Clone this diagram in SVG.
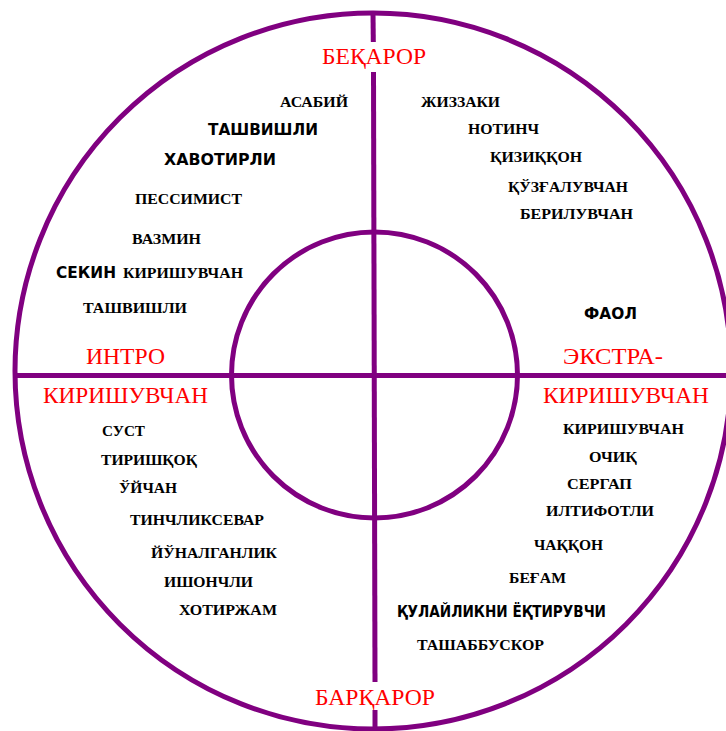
<svg xmlns="http://www.w3.org/2000/svg" width="726" height="731" viewBox="0 0 726 731">
<style>
.ln{stroke:#800080;stroke-width:5;fill:none}
.red{font-family:"Liberation Serif","Times New Roman",serif;font-size:24px;fill:#ff0000}
.sb{font-family:"Liberation Serif","Times New Roman",serif;font-size:15px;font-weight:bold;fill:#000}
.ss{font-family:"DejaVu Sans","Liberation Sans",sans-serif;font-size:15.5px;font-weight:bold;fill:#000}
</style>
<rect width="726" height="731" fill="#fff"/>
<g id="connectors">
<circle class="ln" cx="373" cy="371" r="358"/>
<circle class="ln" cx="374.5" cy="375" r="143"/>
<line class="ln" x1="373" y1="13" x2="373.3" y2="42"/>
<line class="ln" x1="373.5" y1="72" x2="375" y2="682"/>
<line class="ln" x1="375" y1="710" x2="375" y2="730"/>
<line class="ln" x1="14" y1="375.5" x2="726" y2="375.5"/>
</g>
<g id="labels-axes">
<text class="red" x="322" y="64" textLength="104" lengthAdjust="spacingAndGlyphs">БЕҚАРОР</text>
<text class="red" x="86" y="364" textLength="79" lengthAdjust="spacingAndGlyphs">ИНТРО</text>
<text class="red" x="43" y="403" textLength="165" lengthAdjust="spacingAndGlyphs">КИРИШУВЧАН</text>
<text class="red" x="563" y="364" textLength="100" lengthAdjust="spacingAndGlyphs">ЭКСТРА-</text>
<text class="red" x="543" y="403" textLength="166" lengthAdjust="spacingAndGlyphs">КИРИШУВЧАН</text>
<text class="red" x="315" y="705" textLength="120" lengthAdjust="spacingAndGlyphs">БАРҚАРОР</text>
</g>
<g id="quadrant-top-left">
<text class="sb" x="280" y="107" textLength="68" lengthAdjust="spacingAndGlyphs">АСАБИЙ</text>
<text class="ss" x="208" y="135" textLength="110" lengthAdjust="spacingAndGlyphs">ТАШВИШЛИ</text>
<text class="ss" x="164" y="165" textLength="112" lengthAdjust="spacingAndGlyphs">ХАВОТИРЛИ</text>
<text class="sb" x="135" y="204" textLength="107" lengthAdjust="spacingAndGlyphs">ПЕССИМИСТ</text>
<text class="sb" x="132" y="244" textLength="69" lengthAdjust="spacingAndGlyphs">ВАЗМИН</text>
<text class="ss" x="56" y="278" textLength="60" lengthAdjust="spacingAndGlyphs">СЕКИН</text>
<text class="sb" x="123" y="278" textLength="120" lengthAdjust="spacingAndGlyphs">КИРИШУВЧАН</text>
<text class="sb" x="83" y="313" textLength="104" lengthAdjust="spacingAndGlyphs">ТАШВИШЛИ</text>
</g>
<g id="quadrant-top-right">
<text class="sb" x="421" y="107" textLength="79" lengthAdjust="spacingAndGlyphs">ЖИЗЗАКИ</text>
<text class="sb" x="468" y="134" textLength="71" lengthAdjust="spacingAndGlyphs">НОТИНЧ</text>
<text class="sb" x="490" y="162" textLength="92" lengthAdjust="spacingAndGlyphs">ҚИЗИҚҚОН</text>
<text class="sb" x="508" y="192" textLength="120" lengthAdjust="spacingAndGlyphs">ҚЎЗҒАЛУВЧАН</text>
<text class="sb" x="520" y="219" textLength="113" lengthAdjust="spacingAndGlyphs">БЕРИЛУВЧАН</text>
<text class="ss" x="584" y="319" textLength="53" lengthAdjust="spacingAndGlyphs">ФАОЛ</text>
</g>
<g id="quadrant-bottom-left">
<text class="sb" x="102" y="436" textLength="43" lengthAdjust="spacingAndGlyphs">СУСТ</text>
<text class="sb" x="101" y="465" textLength="96" lengthAdjust="spacingAndGlyphs">ТИРИШҚОҚ</text>
<text class="sb" x="119" y="493" textLength="58" lengthAdjust="spacingAndGlyphs">ЎЙЧАН</text>
<text class="sb" x="130" y="525" textLength="134" lengthAdjust="spacingAndGlyphs">ТИНЧЛИКСЕВАР</text>
<text class="sb" x="151" y="558" textLength="126" lengthAdjust="spacingAndGlyphs">ЙЎНАЛГАНЛИК</text>
<text class="sb" x="164" y="587" textLength="89" lengthAdjust="spacingAndGlyphs">ИШОНЧЛИ</text>
<text class="sb" x="179" y="615" textLength="98" lengthAdjust="spacingAndGlyphs">ХОТИРЖАМ</text>
</g>
<g id="quadrant-bottom-right">
<text class="sb" x="563" y="434" textLength="121" lengthAdjust="spacingAndGlyphs">КИРИШУВЧАН</text>
<text class="sb" x="589" y="462" textLength="48" lengthAdjust="spacingAndGlyphs">ОЧИҚ</text>
<text class="sb" x="567" y="489" textLength="65" lengthAdjust="spacingAndGlyphs">СЕРГАП</text>
<text class="sb" x="546" y="516" textLength="108" lengthAdjust="spacingAndGlyphs">ИЛТИФОТЛИ</text>
<text class="sb" x="534" y="550" textLength="69" lengthAdjust="spacingAndGlyphs">ЧАҚҚОН</text>
<text class="sb" x="509" y="583" textLength="57" lengthAdjust="spacingAndGlyphs">БЕҒАМ</text>
<text class="ss" x="397" y="617" textLength="209" lengthAdjust="spacingAndGlyphs">ҚУЛАЙЛИКНИ ЁҚТИРУВЧИ</text>
<text class="sb" x="417" y="650" textLength="127" lengthAdjust="spacingAndGlyphs">ТАШАББУСКОР</text>
</g>
</svg>
